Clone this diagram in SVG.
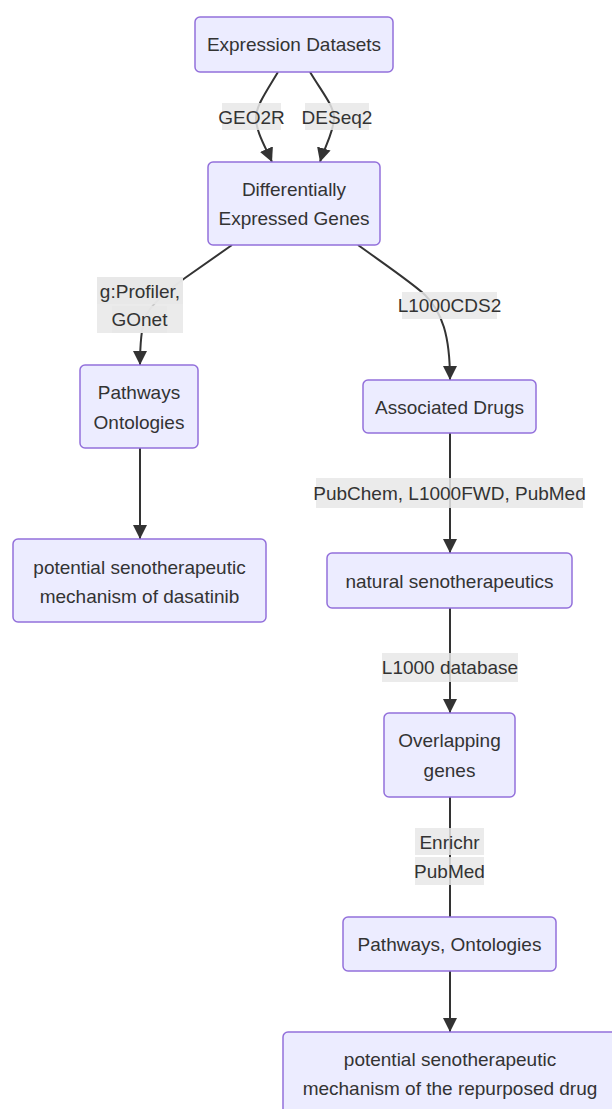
<svg xmlns="http://www.w3.org/2000/svg" width="612" height="1109" viewBox="0 0 612 1109">
<defs>
<style>
.node rect{fill:#ECECFF;stroke:#9370DB;stroke-width:1.5}
.node text,.lbl text{font-family:"Trebuchet MS","Liberation Sans",Arial,sans-serif;font-size:19px;fill:#333;text-anchor:middle;dominant-baseline:central}
.edge{fill:none;stroke:#333;stroke-width:2}
.lbl rect{fill:#e8e8e8;opacity:0.85}
</style>
<marker id="arr" markerUnits="userSpaceOnUse" markerWidth="14" markerHeight="14" viewBox="0 0 10 10" refX="10" refY="5" orient="auto">
<path d="M0,0 L10,5 L0,10 z" fill="#333"/>
</marker>
</defs>
<rect width="612" height="1109" fill="#fff"/>
<g id="connectors">
<path class="edge" d="M278,72 C266,92 256,106 256,118 C256,132 266,148 272,162" marker-end="url(#arr)"/>
<path class="edge" d="M310,72 C322,92 334,106 334,118 C334,132 324,148 320,162" marker-end="url(#arr)"/>
<path class="edge" d="M232,245 L185,278 C166,292 150,305 145,318 C141,330 140,345 140,365" marker-end="url(#arr)"/>
<path class="edge" d="M140,448 L140,539" marker-end="url(#arr)"/>
<path class="edge" d="M358,245 C390,268 415,285 425,295 C442,312 450,335 450,380" marker-end="url(#arr)"/>
<path class="edge" d="M450,433 L450,553" marker-end="url(#arr)"/>
<path class="edge" d="M450,608 L450,713" marker-end="url(#arr)"/>
<path class="edge" d="M450,797 L450,917"/>
<path class="edge" d="M450,971 L450,1032" marker-end="url(#arr)"/>
<g class="lbl"><rect x="222" y="103" width="59" height="27"/><text x="251.5" y="117">GEO2R</text></g>
<g class="lbl"><rect x="305" y="103" width="64" height="27"/><text x="337" y="117">DESeq2</text></g>
<g class="lbl"><rect x="97" y="277" width="86" height="56" opacity="0.5"/><rect x="97" y="277" width="86" height="27"/><rect x="112" y="306" width="55" height="27"/><text x="140" y="291">g:Profiler,</text><text x="139.5" y="319">GOnet</text></g>
<g class="lbl"><rect x="402" y="292" width="95" height="27"/><text x="449.5" y="305.5">L1000CDS2</text></g>
<g class="lbl"><rect x="316" y="478" width="267" height="30"/><text x="449.5" y="493">PubChem, L1000FWD, PubMed</text></g>
<g class="lbl"><rect x="382" y="653" width="136" height="29"/><text x="450" y="667.5">L1000 database</text></g>
<g class="lbl"><rect x="415" y="828" width="69" height="27"/><rect x="415" y="857" width="69" height="28"/><text x="449.5" y="842">Enrichr</text><text x="449.5" y="871">PubMed</text></g>
</g>
<g id="n-expr" class="node"><rect x="195" y="17" width="198" height="55" rx="5"/><text x="294" y="44.5">Expression Datasets</text></g>
<g id="n-deg" class="node"><rect x="208" y="162" width="172" height="83" rx="5"/><text x="294" y="189">Differentially</text><text x="294" y="218">Expressed Genes</text></g>
<g id="n-path1" class="node"><rect x="80" y="365" width="118" height="83" rx="5"/><text x="139" y="392">Pathways</text><text x="139" y="422">Ontologies</text></g>
<g id="n-mech1" class="node"><rect x="13" y="539" width="253" height="83" rx="5"/><text x="139.5" y="567">potential senotherapeutic</text><text x="139.5" y="596">mechanism of dasatinib</text></g>
<g id="n-drugs" class="node"><rect x="363" y="380" width="173" height="53" rx="5"/><text x="449.5" y="407">Associated Drugs</text></g>
<g id="n-natural" class="node"><rect x="327" y="553" width="245" height="55" rx="5"/><text x="449.5" y="581">natural senotherapeutics</text></g>
<g id="n-overlap" class="node"><rect x="384" y="713" width="131" height="84" rx="5"/><text x="449.5" y="740">Overlapping</text><text x="449.5" y="770">genes</text></g>
<g id="n-path2" class="node"><rect x="343" y="917" width="213" height="54" rx="5"/><text x="449.5" y="944">Pathways, Ontologies</text></g>
<g id="n-mech2" class="node"><rect x="283" y="1032" width="334" height="90" rx="5"/><text x="450" y="1059">potential senotherapeutic</text><text x="450" y="1088">mechanism of the repurposed drug</text></g>
</svg>
